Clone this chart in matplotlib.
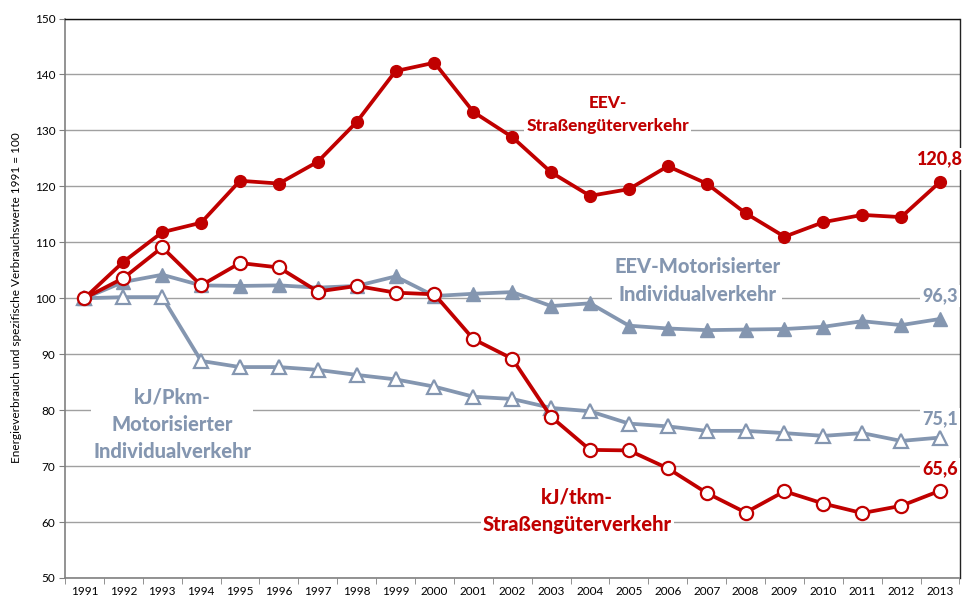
import matplotlib
matplotlib.use("Agg")
import matplotlib.pyplot as plt

years = list(range(1991, 2014))
eev_gueter = [100, 106.5, 111.8, 113.5, 121.0, 120.5, 124.4, 131.5, 140.6, 142.1, 133.3,
              128.8, 122.5, 118.3, 119.5, 123.6, 120.5, 115.2, 111.0, 113.6, 114.9, 114.5, 120.8]
kj_tkm = [100, 103.6, 109.1, 102.3, 106.3, 105.5, 101.2, 102.2, 101.0, 100.7, 92.7,
          89.2, 78.8, 72.9, 72.8, 69.6, 65.2, 61.7, 65.5, 63.3, 61.6, 62.9, 65.6]
eev_miv = [100, 102.9, 104.2, 102.3, 102.2, 102.3, 101.9, 102.2, 103.9, 100.4, 100.8,
           101.1, 98.6, 99.1, 95.1, 94.6, 94.3, 94.4, 94.5, 94.9, 95.9, 95.2, 96.3]
kj_pkm = [100, 100.2, 100.2, 88.8, 87.7, 87.7, 87.2, 86.3, 85.5, 84.2, 82.4,
          82.0, 80.4, 79.8, 77.6, 77.1, 76.3, 76.3, 75.9, 75.4, 75.9, 74.5, 75.1]
yticks = list(range(50, 151, 10))
ylabel = "Energieverbrauch und spezifische Verbrauchswerte 1991 = 100"

RED = "#C00000"
GREY = "#8496B0"
FONT = ["Lato", "DejaVu Sans"]
BOLD = 900

fig = plt.figure(figsize=(9.66, 6.03), dpi=100)
ax = fig.add_axes([65/966, 1-578/603, (959.5-65)/966, (578-18.5)/603])

x = list(range(len(years)))
lw = 2.7
ms = 8.5
ax.plot(x, kj_pkm, color=GREY, lw=lw, marker="^", ms=ms+1, mfc="white", mec=GREY, mew=1.6, zorder=3)
ax.plot(x, eev_miv, color=GREY, lw=lw, marker="^", ms=ms+1, mfc=GREY, mec=GREY, zorder=3)
ax.plot(x, eev_gueter, color=RED, lw=lw, marker="o", ms=ms, mfc=RED, mec=RED, zorder=4)
ax.plot(x, kj_tkm, color=RED, lw=lw, marker="o", ms=ms+1, mfc="white", mec=RED, mew=1.6, zorder=4)

ax.set_xlim(-0.5, len(years) - 0.5)
ax.set_ylim(50, 150)
ax.set_yticks(yticks)
ax.set_yticklabels([str(v) for v in yticks], family=FONT, fontsize=8.5)
ax.set_xticks(x)
ax.set_xticklabels([str(y) for y in years], family=FONT, fontsize=8.5)
ax.set_xticks([i - 0.5 for i in range(len(years) + 1)], minor=True)
ax.tick_params(axis="x", which="major", length=0, pad=6)
ax.tick_params(axis="x", which="minor", length=4, color="#808080")
ax.tick_params(axis="y", length=4, color="#808080", pad=3)
ax.yaxis.grid(True, color="#A0A0A0", lw=1.0, zorder=0)
ax.set_axisbelow(True)
for s in ["left", "bottom"]:
    ax.spines[s].set_color("#808080")
    ax.spines[s].set_linewidth(1.2)
ax.spines["top"].set_color("#111111")
ax.spines["right"].set_color("#222222")
ax.spines["top"].set_linewidth(1.0)
ax.spines["right"].set_linewidth(1.0)

fig.text(17/966, 1-298/603, ylabel, rotation=90, ha="center", va="center",
         family=FONT, fontsize=8.5)

bbox = dict(facecolor="white", edgecolor="none", pad=1.5)
# in-plot labels (data coordinates)
ax.text(13.45, 132.9, "EEV-\nStraßengüterverkehr", color=RED, fontsize=12.4, fontweight=BOLD,
        family=FONT, ha="center", va="center", linespacing=1.55, bbox=bbox, zorder=6)
ax.text(15.76, 103.2, "EEV-Motorisierter\nIndividualverkehr", color=GREY, fontsize=14.5, fontweight=BOLD,
        family=FONT, ha="center", va="center", linespacing=1.55, bbox=bbox, zorder=6)
ax.text(2.26, 77.5, "kJ/Pkm-\nMotorisierter\nIndividualverkehr", color=GREY, fontsize=14.5, fontweight=BOLD,
        family=FONT, ha="center", va="center", linespacing=1.5, bbox=bbox, zorder=6)
ax.text(12.67, 62.0, "kJ/tkm-\nStraßengüterverkehr", color=RED, fontsize=14.5, fontweight=BOLD,
        family=FONT, ha="center", va="center", linespacing=1.55, bbox=bbox, zorder=6)

# end value labels
last = len(years) - 1
for val, col, off in [(eev_gueter[-1], RED, 4.1), (eev_miv[-1], GREY, 4.1),
                      (kj_pkm[-1], GREY, 3.3), (kj_tkm[-1], RED, 3.9)]:
    ax.text(last, val + off, f"{val:.1f}".replace(".", ","), color=col,
            fontsize=13, fontweight=BOLD, family=FONT, ha="center", va="center", bbox=bbox, zorder=6)

fig.savefig("out.png", dpi=100)
